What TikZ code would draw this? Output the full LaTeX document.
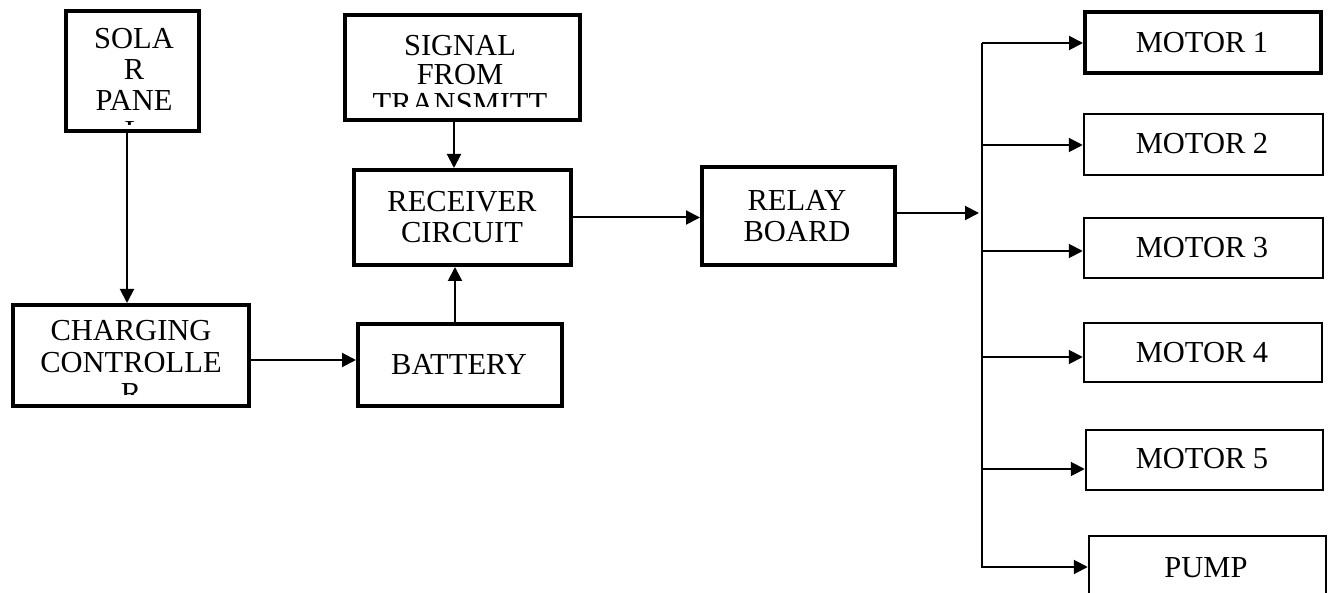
\documentclass[tikz,border=0pt]{standalone}
\usepackage{fontspec}
\setmainfont{Liberation Serif}
\usetikzlibrary{arrows.meta}
\begin{document}
\begin{tikzpicture}[x=1pt,y=-1pt,
  tbox/.style={draw, line width=4pt, inner sep=0pt, outer sep=auto},
  nbox/.style={draw, line width=2.5pt, inner sep=0pt, outer sep=auto},
  lbl/.style={font=\fontsize{30.5pt}{31pt}\selectfont, align=center, anchor=base, inner sep=0pt},
  arr/.style={line width=2pt, -{Triangle[length=14pt,width=14pt]}},
  ln/.style={line width=2pt}]
\clip (0,0) rectangle (1328,593);
\fill[white] (0,0) rectangle (1328,593);

% boxes
\node[tbox, minimum width=133pt, minimum height=120pt] (solar) at (132.5,71) {};
\node[tbox, minimum width=235pt, minimum height=105pt] (signal) at (462.5,67.5) {};
\node[tbox, minimum width=217pt, minimum height=95pt] (receiver) at (462.5,217.5) {};
\node[tbox, minimum width=193pt, minimum height=98pt] (relay) at (798.5,216) {};
\node[tbox, minimum width=236pt, minimum height=101pt] (charging) at (131,355.5) {};
\node[tbox, minimum width=204pt, minimum height=82pt] (battery) at (460,365) {};
\node[tbox, minimum width=236pt, minimum height=61pt] (m1) at (1203,42.5) {};
\node[nbox, minimum width=239pt, minimum height=61pt] (m2) at (1203.5,144.5) {};
\node[nbox, minimum width=239pt, minimum height=60pt] (m3) at (1203.5,248) {};
\node[nbox, minimum width=238pt, minimum height=59pt] (m4) at (1203,352.5) {};
\node[nbox, minimum width=237pt, minimum height=60pt] (m5) at (1204.5,460) {};
\node[nbox, minimum width=237pt, minimum height=74pt] (pump) at (1207.5,573) {};

% texts, clipped at the inner margin of their boxes; anchor=base is the last line's baseline
\begin{scope}
  \clip (solar.north west) rectangle (solar.east |- 0,125);
  \node[lbl] (solartxt) at (134,142) {SOLA\\R\\PANE\\L};
\end{scope}
\begin{scope}
  \clip (signal.north west) rectangle (signal.east |- 0,107);
  \node[lbl, font=\fontsize{30.5pt}{29pt}\selectfont] (signaltxt) at (460,143) {SIGNAL\\FROM\\TRANSMITT\\ER};
\end{scope}
\begin{scope}
  \clip (charging.north west) rectangle (charging.east |- 0,395);
  \node[lbl, font=\fontsize{30.5pt}{31.5pt}\selectfont] (chargingtxt) at (131,403.5) {CHARGING\\CONTROLLE\\R};
\end{scope}
\node[lbl] (receivertxt) at (462,243) {RECEIVER\\CIRCUIT};
\node[lbl] (relaytxt) at (797,242) {RELAY\\BOARD};
\node[lbl] (batterytxt) at (459,375) {BATTERY};
\node[lbl] (m1txt) at (1202,53) {MOTOR 1};
\node[lbl] (m2txt) at (1202,154) {MOTOR 2};
\node[lbl] (m3txt) at (1202,258) {MOTOR 3};
\node[lbl] (m4txt) at (1202,363) {MOTOR 4};
\node[lbl] (m5txt) at (1202,468) {MOTOR 5};
\node[lbl] (pumptxt) at (1206,577) {PUMP};

% connectors
\draw[arr] ([xshift=-5.5pt]solar.south) -- ([xshift=-5.5pt]solar.south |- charging.north);
\draw[arr] ([xshift=-8.5pt]signal.south) -- ([xshift=-8.5pt]signal.south |- receiver.north);
\draw[arr] ([xshift=-5pt]battery.north) -- ([xshift=-5pt]battery.north |- receiver.south);
\draw[arr] ([yshift=-4.5pt]charging.east) -- ([yshift=-4.5pt]charging.east -| battery.west);
\draw[arr] (receiver.east) -- (receiver.east -| relay.west);
\coordinate (busin) at (979,213);
\draw[arr] ([yshift=3pt]relay.east) -- (busin);
\coordinate (bt) at (982,43);
\coordinate (bb) at (982,568);
\draw[ln] (bt) -- (bb);
\coordinate (b1) at (982,43);
\coordinate (b2) at (982,145);
\coordinate (b3) at (982,251);
\coordinate (b4) at (982,357);
\coordinate (b5) at (982,469);
\coordinate (b6) at (982,567);
\draw[arr] (b1) -- (b1 -| m1.west);
\draw[arr] (b2) -- (b2 -| m2.west);
\draw[arr] (b3) -- (b3 -| m3.west);
\draw[arr] (b4) -- (b4 -| m4.west);
\draw[arr] (b5) -- (b5 -| m5.west);
\draw[arr] (b6) -- (b6 -| pump.west);
\end{tikzpicture}
\end{document}
